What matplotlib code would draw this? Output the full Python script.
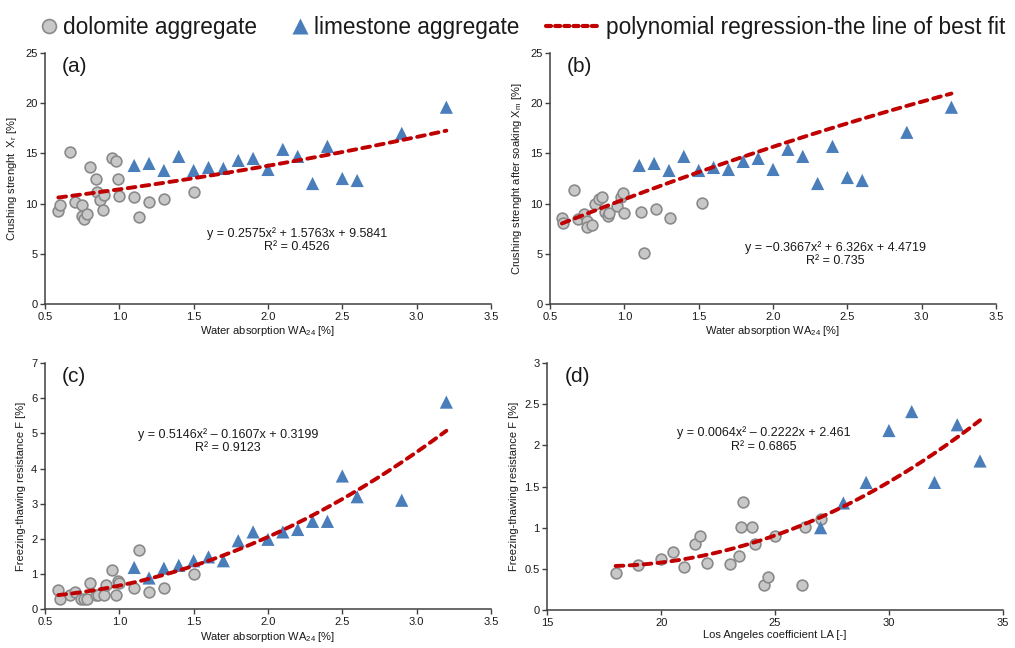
import matplotlib
matplotlib.use('Agg')
import matplotlib.pyplot as plt
from matplotlib.lines import Line2D
from matplotlib.ticker import FormatStrFormatter
import numpy as np

plt.rcParams['font.family'] = ['Liberation Sans', 'DejaVu Sans']
plt.rcParams['mathtext.default'] = 'regular'

# ---- data ----
# (a) crushing strength X_r vs water absorption
a_dol_x = [0.59, 0.60, 0.67, 0.70, 0.75, 0.75, 0.76, 0.78, 0.80, 0.84, 0.85, 0.87,
           0.89, 0.90, 0.95, 0.98, 0.99, 1.00, 1.10, 1.13, 1.20, 1.30, 1.50]
a_dol_y = [9.3, 9.9, 15.1, 10.2, 9.9, 8.8, 8.5, 9.0, 13.6, 12.4, 11.2, 10.4,
           9.4, 10.9, 14.5, 14.2, 12.4, 10.8, 10.7, 8.7, 10.2, 10.5, 11.2]
lim_x = [1.1, 1.2, 1.3, 1.4, 1.5, 1.6, 1.7, 1.8, 1.9, 2.0, 2.1, 2.2, 2.3, 2.4, 2.5, 2.6, 2.9, 3.2]
a_lim_y = [13.8, 14.0, 13.3, 14.7, 13.3, 13.6, 13.5, 14.3, 14.5, 13.4, 15.4, 14.7,
           12.0, 15.7, 12.5, 12.3, 17.0, 19.6]
a_coef = [0.2575, 1.5763, 9.5841]

# (b) crushing strength after soaking X_m vs water absorption
b_dol_x = [0.58, 0.59, 0.66, 0.69, 0.73, 0.75, 0.75, 0.78, 0.80, 0.83, 0.85, 0.87,
           0.89, 0.90, 0.95, 0.98, 0.99, 1.00, 1.11, 1.13, 1.21, 1.31, 1.52]
b_dol_y = [8.6, 8.1, 11.4, 8.5, 9.0, 8.3, 7.7, 7.9, 10.0, 10.5, 10.7, 9.2,
           8.8, 9.1, 9.8, 10.7, 11.1, 9.1, 9.2, 5.1, 9.5, 8.6, 10.1]
b_lim_y = [13.8, 14.0, 13.3, 14.7, 13.3, 13.6, 13.4, 14.2, 14.5, 13.4, 15.4, 14.7,
           12.0, 15.7, 12.6, 12.3, 17.1, 19.6]
b_coef = [-0.3667, 6.326, 4.4719]

# (c) freezing-thawing resistance F vs water absorption
c_dol_x = [0.59, 0.60, 0.67, 0.70, 0.74, 0.76, 0.78, 0.80, 0.84, 0.86, 0.90, 0.91,
           0.95, 0.98, 0.99, 1.00, 1.10, 1.13, 1.20, 1.30, 1.50]
c_dol_y = [0.55, 0.30, 0.40, 0.49, 0.29, 0.29, 0.29, 0.74, 0.41, 0.41, 0.41, 0.69,
           1.11, 0.41, 0.80, 0.76, 0.60, 1.70, 0.50, 0.60, 1.00]
c_lim_y = [1.19, 0.89, 1.17, 1.25, 1.38, 1.49, 1.38, 1.95, 2.20, 1.99, 2.20, 2.27,
           2.50, 2.50, 3.79, 3.20, 3.10, 5.89]
c_coef = [0.5146, -0.1607, 0.3199]

# (d) freezing-thawing resistance F vs Los Angeles coefficient
d_dol_x = [18.0, 19.0, 20.0, 20.5, 21.0, 21.5, 21.7, 22.0, 23.0, 23.4, 23.5, 23.6,
           24.0, 24.1, 24.5, 24.7, 25.0, 26.2, 26.3, 27.0]
d_dol_y = [0.45, 0.55, 0.62, 0.70, 0.52, 0.80, 0.90, 0.57, 0.56, 0.66, 1.01, 1.31,
           1.01, 0.80, 0.30, 0.40, 0.90, 0.30, 1.01, 1.11]
d_lim_x = [27, 28, 29, 30, 31, 32, 33, 34]
d_lim_y = [1.00, 1.30, 1.55, 2.18, 2.41, 1.55, 2.25, 1.81]
d_coef = [0.0064, -0.2222, 2.461]

# ---- styles ----
DOL_FACE = '#c8c8c8'
DOL_EDGE = '#8a8a8a'
LIM_COLOR = '#4a7ebb'
FIT_COLOR = '#c00000'
AXIS_COLOR = '#404040'
TEXT_COLOR = '#1a1a1a'


def draw_panel(ax, dol_x, dol_y, l_x, l_y, coef, label, eq, eq_pos, xlabel, ylabel):
    ax.scatter(dol_x, dol_y, s=60, marker='o', facecolor=DOL_FACE,
               edgecolor=DOL_EDGE, linewidth=1.2, zorder=3)
    ax.scatter(l_x, l_y, s=90, marker='^', color=LIM_COLOR, edgecolor='none', zorder=3)

    # trend line from the printed regression coefficients
    allx = list(dol_x) + list(l_x)
    xs = np.linspace(min(allx), max(allx), 200)
    ax.plot(xs, np.polyval(coef, xs), color=FIT_COLOR, linewidth=2.8,
            linestyle=(0, (2.0, 1.6)), dash_capstyle='round', zorder=4)

    ax.text(0.038, 0.945, label, transform=ax.transAxes, fontsize=15,
            ha='left', va='center', color=TEXT_COLOR)
    ax.text(eq_pos[0], eq_pos[1], eq, transform=ax.transAxes, fontsize=9,
            ha='center', va='center', multialignment='center',
            color=TEXT_COLOR, linespacing=1.15)

    ax.set_xlabel(xlabel, fontsize=8, color=TEXT_COLOR, labelpad=2)
    ax.set_ylabel(ylabel, fontsize=8, color=TEXT_COLOR, labelpad=4)
    for side in ['top', 'right']:
        ax.spines[side].set_visible(False)
    for side in ['left', 'bottom']:
        ax.spines[side].set_color(AXIS_COLOR)
        ax.spines[side].set_linewidth(1.1)
    ax.tick_params(direction='out', length=3.5, width=1.0, color=AXIS_COLOR,
                   labelsize=8, labelcolor=TEXT_COLOR, pad=2)


fig = plt.figure(figsize=(10.15, 6.48), dpi=100)

ax_a = fig.add_axes([0.0443, 0.5309, 0.4394, 0.3873])
ax_b = fig.add_axes([0.5419, 0.5309, 0.4394, 0.3873])
ax_c = fig.add_axes([0.0443, 0.0597, 0.4394, 0.3800])
ax_d = fig.add_axes([0.5392, 0.0586, 0.4488, 0.3812])

wa_label = 'Water absorption WA$_{24}$ [%]'

draw_panel(ax_a, a_dol_x, a_dol_y, lim_x, a_lim_y, a_coef, '(a)',
           'y = 0.2575x² + 1.5763x + 9.5841\nR² = 0.4526', (0.565, 0.255),
           wa_label, 'Crushing strenght  X$_r$ [%]')
draw_panel(ax_b, b_dol_x, b_dol_y, lim_x, b_lim_y, b_coef, '(b)',
           'y = \u22120.3667x² + 6.326x + 4.4719\nR² = 0.735', (0.64, 0.200),
           wa_label, 'Crushing strenght after soaking X$_m$ [%]')
draw_panel(ax_c, c_dol_x, c_dol_y, lim_x, c_lim_y, c_coef, '(c)',
           'y = 0.5146x² \u2013 0.1607x + 0.3199\nR² = 0.9123', (0.41, 0.683),
           wa_label, 'Freezing-thawing resistance F [%]')
draw_panel(ax_d, d_dol_x, d_dol_y, d_lim_x, d_lim_y, d_coef, '(d)',
           'y = 0.0064x² \u2013 0.2222x + 2.461\nR² = 0.6865', (0.475, 0.69),
           'Los Angeles coefficient LA [-]', 'Freezing-thawing resistance F [%]')

for ax in (ax_a, ax_b):
    ax.set_xlim(0.5, 3.5)
    ax.set_ylim(0, 25)
    ax.set_yticks(range(0, 26, 5))
for ax in (ax_a, ax_b, ax_c):
    ax.set_xticks(np.arange(0.5, 3.51, 0.5))
    ax.xaxis.set_major_formatter(FormatStrFormatter('%.1f'))
ax_c.set_xlim(0.5, 3.5)
ax_c.set_ylim(0, 7)
ax_c.set_yticks(range(0, 8))
ax_d.set_xlim(15, 35)
ax_d.set_xticks(range(15, 36, 5))
ax_d.set_ylim(0, 3)
ax_d.set_yticks(np.arange(0, 3.01, 0.5))
ax_d.yaxis.set_major_formatter(FormatStrFormatter('%g'))

# ---- legend at the top: three pieces so each handle gets its own length ----
dol_handle = Line2D([], [], linestyle='none', marker='o', markersize=10,
                    markerfacecolor=DOL_FACE, markeredgecolor=DOL_EDGE,
                    markeredgewidth=1.2)
lim_handle = Line2D([], [], linestyle='none', marker='^', markersize=11,
                    color=LIM_COLOR, markeredgecolor='none')
fit_handle = Line2D([], [], color=FIT_COLOR, linewidth=3.0,
                    linestyle=(0, (1.2, 1.0)), dash_capstyle='round')

legend_items = [
    (dol_handle, 'dolomite aggregate', 0.040, 0.75),
    (lim_handle, 'limestone aggregate', 0.287, 0.75),
    (fit_handle, 'polynomial regression-the line of best fit', 0.538, 2.4),
]
for handle, text, x0, hlen in legend_items:
    leg = fig.legend([handle], [text], loc='center left', bbox_to_anchor=(x0, 0.958),
                     frameon=False, fontsize=16.3, handlelength=hlen,
                     handletextpad=0.25, borderpad=0, borderaxespad=0,
                     labelcolor=TEXT_COLOR)

fig.savefig('out.png', dpi=100)
